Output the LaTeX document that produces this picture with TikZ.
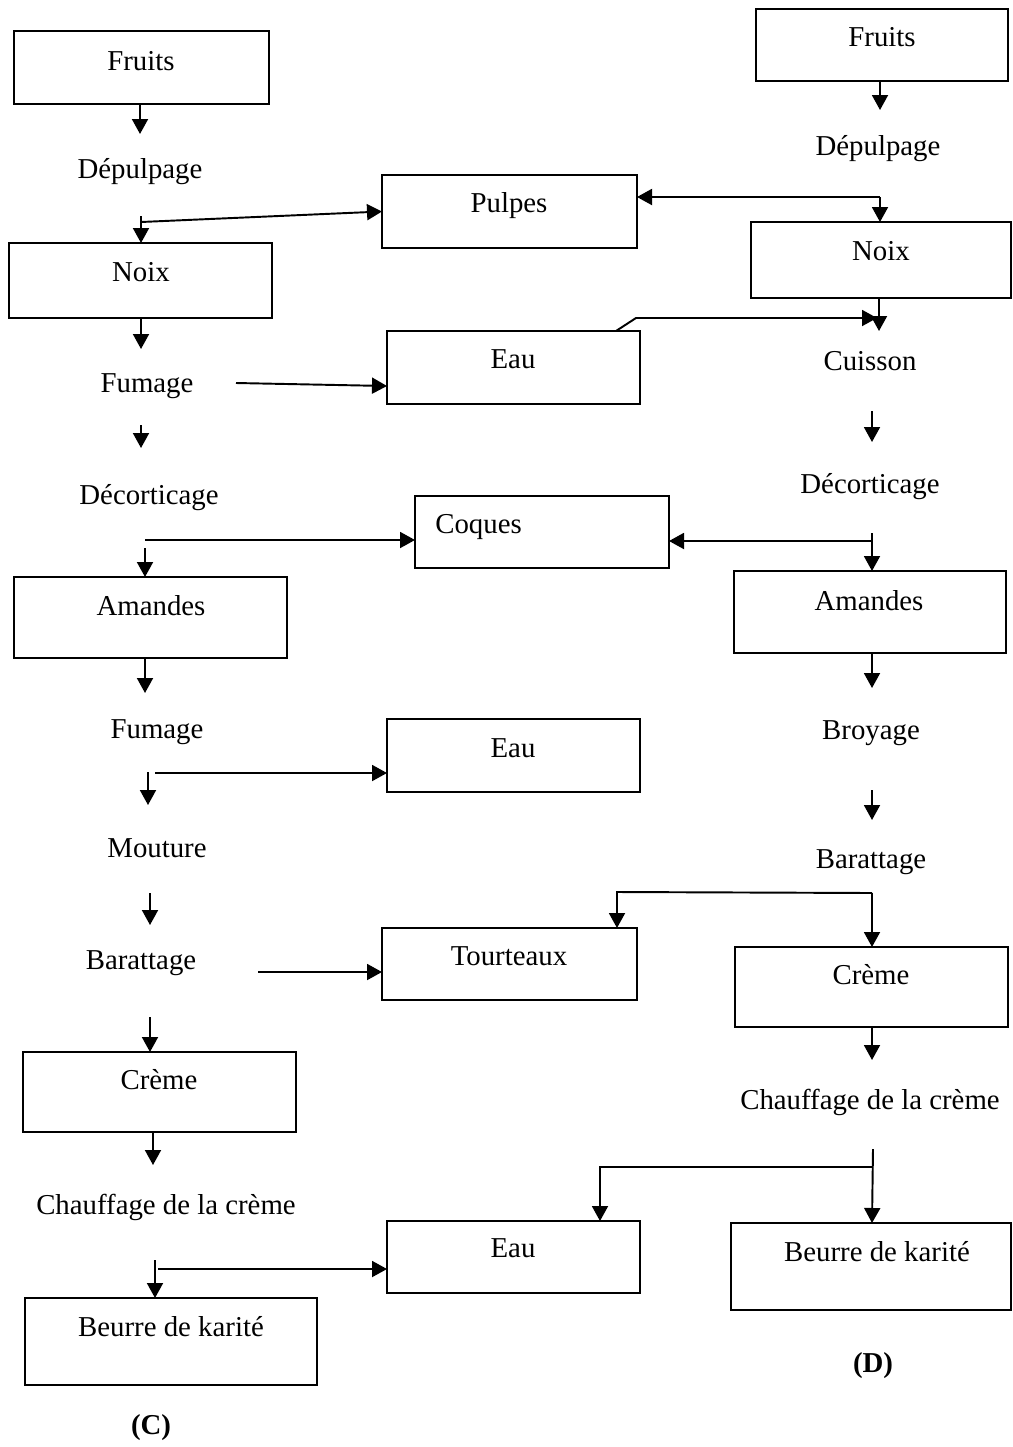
\documentclass[tikz,border=0pt]{standalone}
\usepackage{fontspec}
\setmainfont{Liberation Serif}
\usetikzlibrary{arrows.meta}
\newcommand\mybox[5]{\node[box, minimum width={(#4-#2)*0.02cm}, minimum height={(#5-#3)*0.02cm}] (#1) at (#2,#3) {};}
\begin{document}
\begin{tikzpicture}[x=0.02cm,y=-0.02cm,
 box/.style={draw, line width=1.2pt, anchor=north west, inner sep=0pt, outer sep=0pt},
 txt/.style={anchor=base, inner sep=0pt, font=\fontsize{16.4}{19}\selectfont},
 arr/.style={line width=1.1pt, -{Triangle[length=0.3cm,width=0.32cm]}}]
\useasboundingbox (0,0) rectangle (1013,1447);
% left boxes
\mybox{fruitsL}{14}{31}{269}{104}
\mybox{noixL}{9}{243}{272}{318}
\mybox{amandesL}{14}{577}{287}{658}
\mybox{cremeL}{23}{1052}{296}{1132}
\mybox{beurreL}{25}{1298}{317}{1385}
% middle boxes
\mybox{pulpes}{382}{175}{637}{248}
\mybox{eauA}{387}{331}{640}{404}
\mybox{coques}{415}{496}{669}{568}
\mybox{eauB}{387}{719}{640}{792}
\mybox{tourteaux}{382}{928}{637}{1000}
\mybox{eauC}{387}{1221}{640}{1293}
% right boxes
\mybox{fruitsR}{756}{9}{1008}{81}
\mybox{noixR}{751}{222}{1011}{298}
\mybox{amandesR}{734}{571}{1006}{653}
\mybox{cremeR}{735}{947}{1008}{1027}
\mybox{beurreR}{731}{1223}{1011}{1310}
% box texts
\node[txt] (tFruitsL) at (141,70) {Fruits};
\node[txt] (tNoixL) at (141,281) {Noix};
\node[txt] (tAmandesL) at (151,615) {Amandes};
\node[txt] (tCremeL) at (159,1089) {Crème};
\node[txt] (tBeurreL) at (171,1336) {Beurre de karité};
\node[txt] (tPulpes) at (509,212) {Pulpes};
\node[txt] (tEauA) at (513,368) {Eau};
\node[txt,anchor=base west] (tCoques) at (435,533) {Coques};
\node[txt] (tEauB) at (513,757) {Eau};
\node[txt] (tTourteaux) at (509,965) {Tourteaux};
\node[txt] (tEauC) at (513,1257) {Eau};
\node[txt] (tFruitsR) at (882,46) {Fruits};
\node[txt] (tNoixR) at (881,260) {Noix};
\node[txt] (tAmandesR) at (869,610) {Amandes};
\node[txt] (tCremeR) at (871,984) {Crème};
\node[txt] (tBeurreR) at (877,1261) {Beurre de karité};
% step labels left
\node[txt] (depL) at (140,178) {Dépulpage};
\node[txt] (fumL) at (147,392) {Fumage};
\node[txt] (decL) at (149,504) {Décorticage};
\node[txt] (fumL2) at (157,738) {Fumage};
\node[txt] (mou) at (157,857) {Mouture};
\node[txt] (barL) at (141,969) {Barattage};
\node[txt] (chL) at (166,1214) {Chauffage de la crème};
\node[txt,font=\fontsize{16.4}{19}\selectfont\bfseries] (capC) at (151,1434) {(C)};
% step labels right
\node[txt] (depR) at (878,155) {Dépulpage};
\node[txt] (cui) at (870,370) {Cuisson};
\node[txt] (decR) at (870,493) {Décorticage};
\node[txt] (broy) at (871,739) {Broyage};
\node[txt] (barR) at (871,868) {Barattage};
\node[txt] (chR) at (870,1109) {Chauffage de la crème};
\node[txt,font=\fontsize{16.4}{19}\selectfont\bfseries] (capD) at (873,1372) {(D)};
% left connectors
\draw[arr] (140,104) -- (140,134);
\draw[arr] (141,216) -- (141,243);
\draw[arr] (141,222) -- (pulpes.west);
\draw[arr] (141,318) -- (141,349);
\draw[arr] (236,383) -- (387,386);
\draw[arr] (141,425) -- (141,448);
\draw[arr] (145,540) -- (415,540);
\draw[arr] (145,548) -- (145,577);
\draw[arr] (145,658) -- (145,693);
\draw[arr] (148,772) -- (148,805);
\draw[arr] (155,773) -- (387,773);
\draw[arr] (150,893) -- (150,925);
\draw[arr] (258,972) -- (382,972);
\draw[arr] (150,1017) -- (150,1052);
\draw[arr] (153,1132) -- (153,1165);
\draw[arr] (155,1260) -- (155,1298);
\draw[arr] (158,1269) -- (387,1269);
% right connectors
\draw[arr] (880,81) -- (880,110);
\draw[arr] (880,197) -- (637,197);
\draw[arr] (880,197) -- (880,222);
\draw[arr] (879,298) -- (879,331);
\draw[arr] (616,331) -- (636,318) -- (877,318);
\draw[arr] (872,411) -- (872,442);
\draw[arr] (872,541) -- (669,541);
\draw[arr] (872,533) -- (872,571);
\draw[arr] (872,653) -- (872,688);
\draw[arr] (872,790) -- (872,820);
\draw[arr] (872,893) -- (617,892) -- (617,928);
\draw[arr] (872,893) -- (872,947);
\draw[arr] (872,1027) -- (872,1060);
\draw[arr] (873,1149) -- (872,1223);
\draw[arr] (872,1167) -- (600,1167) -- (600,1221);
\end{tikzpicture}
\end{document}
